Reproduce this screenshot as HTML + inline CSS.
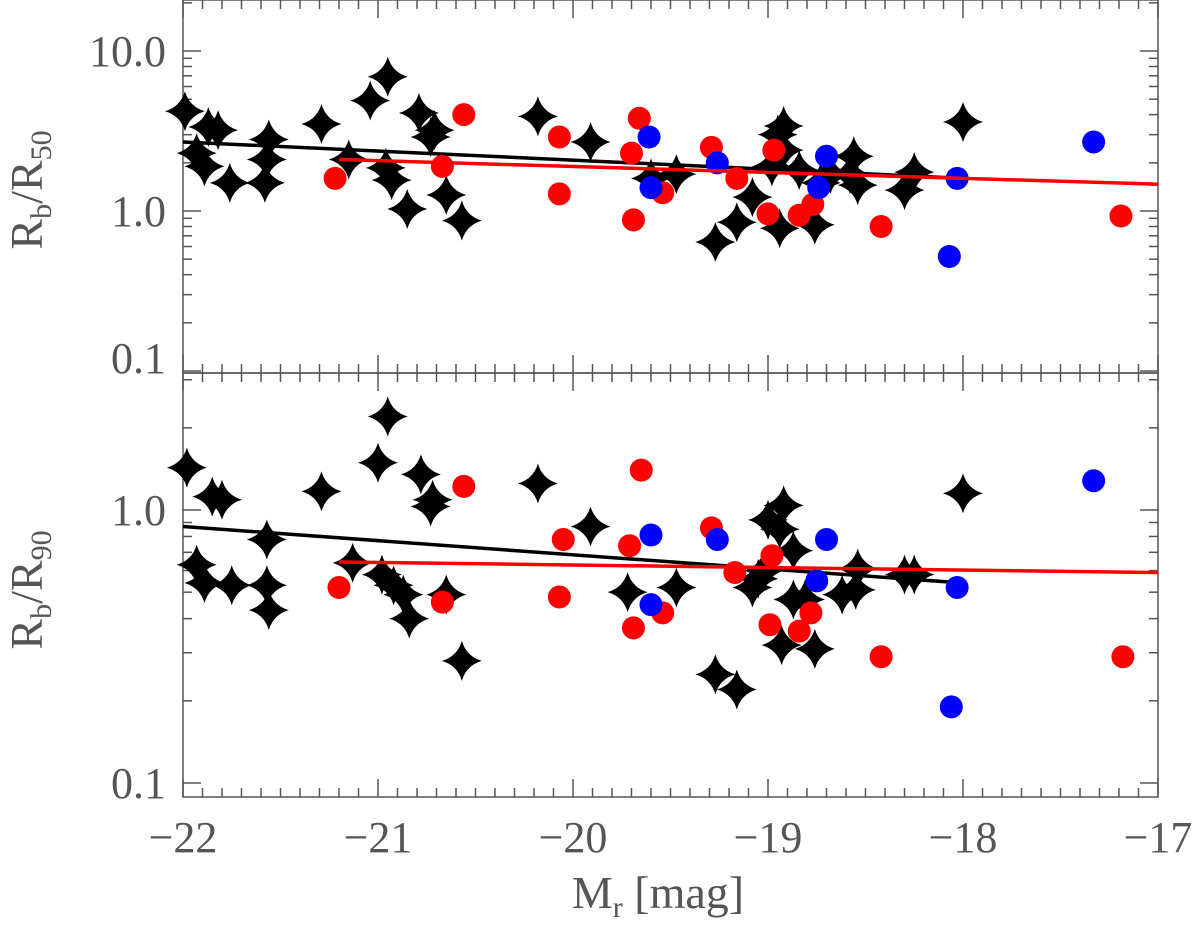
<!DOCTYPE html>
<html><head><meta charset="utf-8"><style>
html,body{margin:0;padding:0;background:#fff}
svg{display:block}
text{font-family:"Liberation Serif",serif;fill:#555}
</style></head><body>
<svg id="chart" width="1200" height="925" viewBox="0 0 1200 925" xmlns="http://www.w3.org/2000/svg"></svg>
<script>
// ---- data ----
const xTicks = [-22,-21,-20,-19,-18,-17];
const topTickLabels = ["0.1","1.0","10.0"];
const botTickLabels = ["0.1","1.0"];

const topStarM = [-21.99,-21.93,-21.89,-21.87,-21.82,-21.76,-21.56,-21.57,-21.58,-21.29,-21.15,-21.04,-20.95,-20.96,-20.93,-20.85,-20.79,-20.73,-20.71,-20.65,-20.57,-20.18,-19.91,-19.6,-19.47,-19.27,-19.16,-19.08,-18.98,-18.92,-18.95,-18.92,-18.94,-18.84,-18.76,-18.73,-18.68,-18.58,-18.56,-18.54,-18.3,-18.25,-18.0];
const topStarV = [4.2,2.3,1.9,3.35,3.2,1.5,2.8,2.1,1.5,3.5,2.1,4.9,6.9,1.86,1.56,1.03,4.1,2.9,3.2,1.26,0.87,3.9,2.7,1.6,1.7,0.64,0.85,1.22,1.9,2.4,3.0,3.4,0.78,1.8,0.82,1.5,1.7,1.7,2.2,1.45,1.35,1.75,3.6];
const topRedM = [-21.22,-20.56,-20.67,-20.07,-20.07,-19.66,-19.7,-19.69,-19.54,-19.29,-19.16,-18.97,-19.0,-18.84,-18.77,-18.42,-17.19];
const topRedV = [1.6,4.0,1.9,2.9,1.28,3.8,2.3,0.88,1.3,2.5,1.6,2.4,0.96,0.94,1.1,0.8,0.93];
const topBlueM = [-19.61,-19.6,-19.26,-18.7,-18.74,-18.03,-18.07,-17.33];
const topBlueV = [2.9,1.4,2.0,2.2,1.4,1.6,0.52,2.7];
const topBlackFit = [[-22,2.7],[-18.0,1.6]];
const topRedFit = [[-21.2,2.1],[-17,1.47]];

const botStarM = [-21.98,-21.93,-21.89,-21.85,-21.8,-21.75,-21.57,-21.57,-21.56,-21.29,-21.13,-21.0,-20.95,-20.98,-20.92,-20.87,-20.84,-20.78,-20.72,-20.73,-20.65,-20.57,-20.18,-19.91,-19.72,-19.47,-19.27,-19.16,-19.08,-19.05,-19.02,-19.0,-18.92,-18.94,-18.93,-18.87,-18.87,-18.81,-18.76,-18.62,-18.55,-18.54,-18.3,-18.25,-18.0];
const botStarV = [1.43,0.63,0.54,1.12,1.09,0.53,0.78,0.53,0.43,1.17,0.64,1.49,2.2,0.58,0.53,0.49,0.4,1.35,1.09,1.03,0.49,0.28,1.25,0.87,0.5,0.52,0.25,0.22,0.52,0.56,0.6,0.92,1.04,0.85,0.32,0.71,0.47,0.47,0.31,0.49,0.51,0.61,0.58,0.58,1.15];
const botRedM = [-21.2,-20.56,-20.67,-20.05,-20.07,-19.65,-19.71,-19.69,-19.54,-19.29,-19.17,-18.99,-18.98,-18.84,-18.78,-18.42,-17.18];
const botRedV = [0.52,1.22,0.46,0.78,0.48,1.4,0.74,0.37,0.42,0.86,0.59,0.38,0.68,0.36,0.42,0.29,0.29];
const botBlueM = [-19.6,-19.6,-19.26,-18.7,-18.75,-18.03,-18.06,-17.33];
const botBlueV = [0.81,0.45,0.78,0.78,0.55,0.52,0.19,1.28];
const botBlackFit = [[-22,0.87],[-18.0,0.54]];
const botRedFit = [[-21.2,0.645],[-17,0.59]];

// ---- layout ----
const NS = "http://www.w3.org/2000/svg";
const svg = document.getElementById('chart');
const X0 = 183, X1 = 1158;
const xS = m => X0 + (m + 22) * 195;
const topP = {y0:0, y1:373, y:v => 211 - 160*Math.log10(v), dmin:-1, dmax:1};
const botP = {y0:373, y1:797, y:v => 510 - 273*Math.log10(v), dmin:-1, dmax:0};

function el(tag, attrs, parent){
  const e = document.createElementNS(NS, tag);
  for (const k in attrs) e.setAttribute(k, attrs[k]);
  (parent||svg).appendChild(e);
  return e;
}
function starPath(cx, cy){
  const r = 20, c = 4.5;
  return `M${cx},${cy-r} Q${cx+c},${cy-c} ${cx+r},${cy} Q${cx+c},${cy+c} ${cx},${cy+r} Q${cx-c},${cy+c} ${cx-r},${cy} Q${cx-c},${cy-c} ${cx},${cy-r}Z`;
}

function drawPanel(P, name, labels, starM, starV, redM, redV, blueM, blueV, bFit, rFit){
  const g = el('g', {});
  
  
  const ax = el('g', {stroke:'#555','stroke-width':1.5,fill:'none'}, g);
  
  
  el('rect', {x:X0, y:P.y0, width:X1-X0, height:P.y1-P.y0}, ax);
  for (let d = P.dmin; d <= P.dmax; d++){
    for (let k = 1; k <= 9; k++){
      const v = k * Math.pow(10, d);
      const y = P.y(v);
      if (y < P.y0 + 2 || y > P.y1 - 2) continue;
      const L = k === 1 ? 18 : 9;
      el('line', {x1:X0, x2:X0+L, y1:y, y2:y}, ax);
      el('line', {x1:X1, x2:X1-L, y1:y, y2:y}, ax);
    }
  }
  for (let i = 0; i <= 50; i++){
    const m = -22 + i*0.1;
    const x = xS(m);
    const L = i % 10 === 0 ? 18 : 9;
    el('line', {x1:x, x2:x, y1:P.y1, y2:P.y1-L}, ax);
    el('line', {x1:x, x2:x, y1:P.y0, y2:P.y0+L}, ax);
  }
  labels.forEach((t, i) => {
    const v = Math.pow(10, P.dmin + i);
    let yy = P.y(v) + 15;
    if (name === 'top' && i === 0) yy = 373;
    const tx = el('text', {x:166, y:yy, 'text-anchor':'end', 'font-size':44}, g);
    tx.textContent = t;
    
    
  });
  const bl = el('line', {x1:xS(bFit[0][0]), y1:P.y(bFit[0][1]), x2:xS(bFit[1][0]), y2:P.y(bFit[1][1]), stroke:'#000','stroke-width':3.5}, g);
  
  
  starM.forEach((m, i) => {
    const p = el('path', {d:starPath(xS(m), P.y(starV[i])), fill:'#000'}, g);
    
    
  });
  redM.forEach((m, i) => {
    const c = el('circle', {cx:xS(m), cy:P.y(redV[i]), r:11.5, fill:'#f00'}, g);
    
    
  });
  blueM.forEach((m, i) => {
    const c = el('circle', {cx:xS(m), cy:P.y(blueV[i]), r:11.5, fill:'#00f'}, g);
    
    
  });
  const rl = el('line', {x1:xS(rFit[0][0]), y1:P.y(rFit[0][1]), x2:xS(rFit[1][0]), y2:P.y(rFit[1][1]), stroke:'#f00','stroke-width':3.5}, g);
  
  
}
drawPanel(topP, 'top', topTickLabels, topStarM, topStarV, topRedM, topRedV, topBlueM, topBlueV, topBlackFit, topRedFit);
drawPanel(botP, 'bottom', botTickLabels, botStarM, botStarV, botRedM, botRedV, botBlueM, botBlueV, botBlackFit, botRedFit);

xTicks.forEach(m => {
  const t = el('text', {x:xS(m), y:852, 'text-anchor':'middle', 'font-size':44});
  t.textContent = '\u2212' + Math.abs(m);
  
  
});
</script>
<svg style="position:absolute;left:0;top:0" width="1200" height="925">
  <text x="658" y="908" text-anchor="middle" font-size="46">M<tspan font-size="30" dy="9">r</tspan><tspan dy="-9"> [mag]</tspan></text>
  <text transform="translate(42,190) rotate(-90)" text-anchor="middle" font-size="46">R<tspan font-size="30" dy="9">b</tspan><tspan dy="-9">/R</tspan><tspan font-size="30" dy="9">50</tspan></text>
  <text transform="translate(42,590) rotate(-90)" text-anchor="middle" font-size="46">R<tspan font-size="30" dy="9">b</tspan><tspan dy="-9">/R</tspan><tspan font-size="30" dy="9">90</tspan></text>
</svg>
</body></html>
